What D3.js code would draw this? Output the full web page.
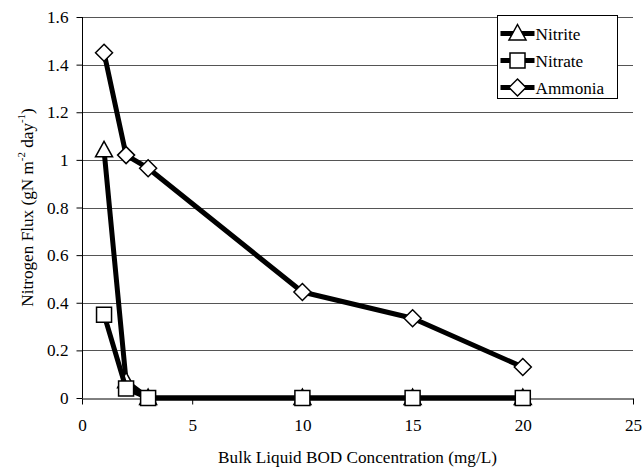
<!DOCTYPE html>
<html>
<head>
<meta charset="utf-8">
<script src="https://cdn.jsdelivr.net/npm/d3@7"></script>
<style>
  body { margin: 0; background: #fff; }
  #chart { width: 644px; height: 469px; }
  svg text { fill: #000; }
</style>
</head>
<body>
<div id="chart"></div>
<script>
const width = 644;
const height = 469;

// values
const bod = [1, 2, 3, 10, 15, 20];
const nitrite = [1.04, 0.07, 0, 0, 0, 0];
const nitrate = [0.35, 0.04, 0, 0, 0, 0];
const ammonia = [1.45, 1.02, 0.965, 0.445, 0.335, 0.13];
const xTicks = [0, 5, 10, 15, 20, 25];
const yTicks = [0, 0.2, 0.4, 0.6, 0.8, 1, 1.2, 1.4, 1.6];

const series = [
  { name: "Nitrite", values: nitrite, symbol: "triangle" },
  { name: "Nitrate", values: nitrate, symbol: "square" },
  { name: "Ammonia", values: ammonia, symbol: "diamond" },
];

const margin = { top: 17, right: 11, bottom: 71, left: 82 };
const fontFamily = "'Liberation Serif', 'Times New Roman', Tinos, 'DejaVu Serif', serif";
const xTitle = "Bulk Liquid BOD Concentration (mg/L)";

const svg = d3
  .select("#chart")
  .append("svg")
  .attr("width", width)
  .attr("height", height)
  .style("font-family", fontFamily);

// the title is about 279px wide in the picture; size the font to match
const probe = svg.append("text").attr("font-size", 19).text(xTitle);
const fontSize = Math.min(19, (19 * 279) / probe.node().getComputedTextLength());
probe.remove();

const x = d3.scaleLinear().domain([0, 25]).range([margin.left, width - margin.right]);
const y = d3.scaleLinear().domain([0, 1.6]).range([height - margin.bottom, margin.top]);

// gridlines
svg
  .append("g")
  .selectAll("line")
  .data(yTicks.filter((d) => d > 0))
  .enter()
  .append("line")
  .attr("x1", x(0))
  .attr("x2", x(25))
  .attr("y1", (d) => Math.round(y(d)) + 0.5)
  .attr("y2", (d) => Math.round(y(d)) + 0.5)
  .attr("stroke", "#555")
  .attr("stroke-width", 1);

// y axis
const yAxis = svg
  .append("g")
  .attr("transform", `translate(${Math.round(x(0)) + 0.5},0)`)
  .call(d3.axisLeft(y).tickValues(yTicks).tickSize(6).tickPadding(8).tickFormat((d) => d3.format("")(d)));
yAxis.select(".domain").attr("d", `M0,${y(1.6)}V${y(0)}`);
yAxis.selectAll(".tick line").attr("stroke", "#000");
yAxis.attr("font-family", null);
yAxis.selectAll("text").attr("font-size", fontSize);

// x axis
const xAxis = svg
  .append("g")
  .attr("transform", `translate(0,${Math.round(y(0)) + 0.5})`)
  .call(d3.axisBottom(x).tickValues(xTicks).tickSize(6).tickPadding(14).tickSizeOuter(0));
xAxis.attr("font-family", null);
xAxis.selectAll("text").attr("font-size", fontSize);

// axis titles
svg
  .append("text")
  .attr("x", (x(0) + x(25)) / 2)
  .attr("y", 463)
  .attr("text-anchor", "middle")
  .attr("font-size", fontSize)
  .text(xTitle);

const yTitle = svg
  .append("text")
  .attr("transform", `translate(33,${(y(0) + y(1.6)) / 2}) rotate(-90)`)
  .attr("text-anchor", "middle")
  .attr("font-size", fontSize);
yTitle.append("tspan").text("Nitrogen Flux (gN m");
yTitle.append("tspan").attr("font-size", fontSize * 0.63).attr("dy", -8).text("-2");
yTitle.append("tspan").attr("dy", 8).text(" day");
yTitle.append("tspan").attr("font-size", fontSize * 0.63).attr("dy", -8).text("-1");
yTitle.append("tspan").attr("dy", 8).text(")");

function markerPath(symbol) {
  if (symbol === "diamond") return "M0,-8.5L8.5,0L0,8.5L-8.5,0Z";
  if (symbol === "square") return "M-7.5,-7.5H7.5V7.5H-7.5Z";
  return "M0,-9L8.5,6.5L-8.5,6.5Z";
}

const line = d3
  .line()
  .x((d) => x(d[0]))
  .y((d) => y(d[1]));

series.forEach((s) => {
  const pts = bod.map((b, i) => [b, s.values[i]]);
  const g = svg.append("g");
  g.append("path")
    .attr("d", line(pts))
    .attr("fill", "none")
    .attr("stroke", "#000")
    .attr("stroke-width", 5)
    .attr("stroke-linejoin", "round");
  g.selectAll("path.marker")
    .data(pts)
    .enter()
    .append("path")
    .attr("class", "marker")
    .attr("transform", (d) => `translate(${x(d[0])},${y(d[1])})`)
    .attr("d", markerPath(s.symbol))
    .attr("fill", "#fff")
    .attr("stroke", "#000")
    .attr("stroke-width", 1.5);
});

// legend
const legend = svg.append("g").attr("transform", "translate(497.5,15.5)");
legend
  .append("rect")
  .attr("width", 120)
  .attr("height", 83)
  .attr("fill", "#fff")
  .attr("stroke", "#000")
  .attr("stroke-width", 1);

series.forEach((s, i) => {
  const ly = 18 + i * 27;
  legend
    .append("line")
    .attr("x1", 3)
    .attr("x2", 37)
    .attr("y1", ly)
    .attr("y2", ly)
    .attr("stroke", "#000")
    .attr("stroke-width", 5);
  legend
    .append("path")
    .attr("transform", `translate(20,${ly})`)
    .attr("d", markerPath(s.symbol))
    .attr("fill", "#fff")
    .attr("stroke", "#000")
    .attr("stroke-width", 1.5);
  legend
    .append("text")
    .attr("x", 38)
    .attr("y", ly + 6)
    .attr("font-size", fontSize)
    .text(s.name);
});
</script>
</body>
</html>
